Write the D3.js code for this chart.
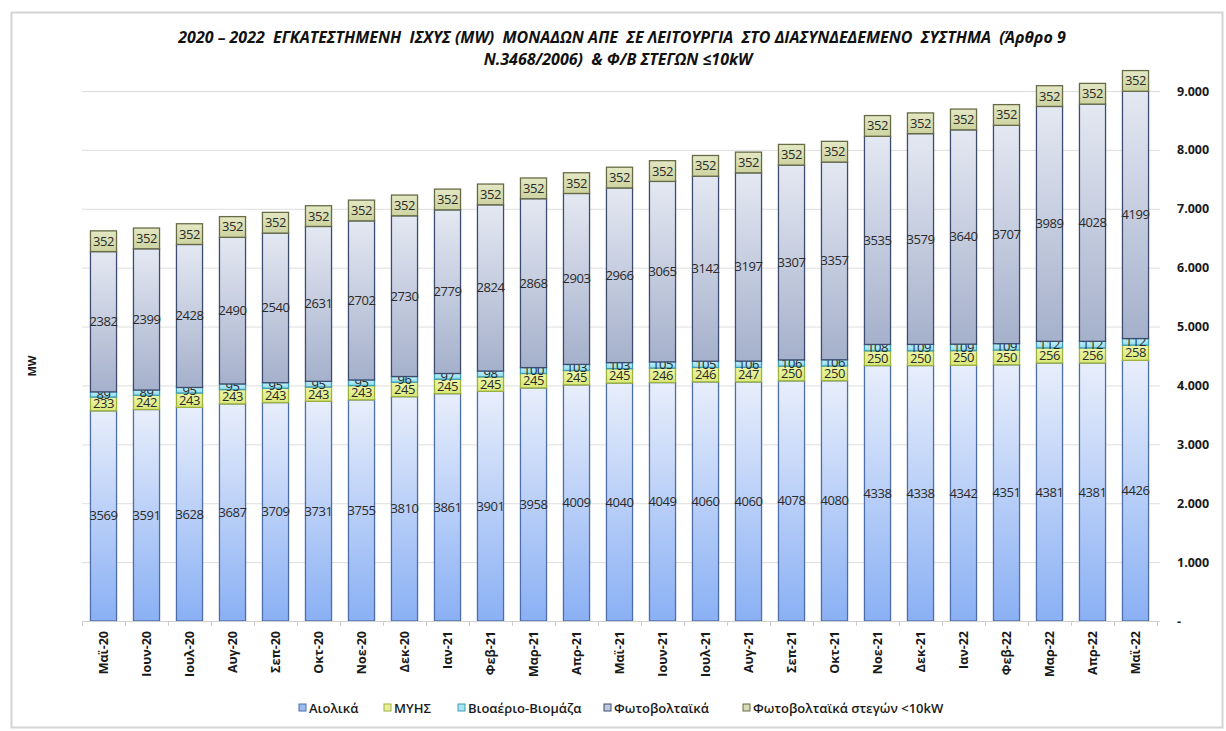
<!DOCTYPE html>
<html>
<head>
<meta charset="utf-8">
<script src="https://cdn.jsdelivr.net/npm/d3@7"></script>
<style>
  html, body { margin: 0; padding: 0; background: #ffffff; }
  svg { display: block; }
  .pre { white-space: pre; }
</style>
</head>
<body>
<svg id="chart" width="1226" height="731"></svg>
<script>
// Monthly installed capacity (MW) per technology, May 2020 – May 2022
const months = ["Μαϊ-20","Ιουν-20","Ιουλ-20","Αυγ-20","Σεπ-20","Οκτ-20","Νοε-20","Δεκ-20",
  "Ιαν-21","Φεβ-21","Μαρ-21","Απρ-21","Μαϊ-21","Ιουν-21","Ιουλ-21","Αυγ-21","Σεπ-21","Οκτ-21",
  "Νοε-21","Δεκ-21","Ιαν-22","Φεβ-22","Μαρ-22","Απρ-22","Μαϊ-22"];
const wind    = [3569,3591,3628,3687,3709,3731,3755,3810,3861,3901,3958,4009,4040,4049,4060,4060,4078,4080,4338,4338,4342,4351,4381,4381,4426];
const smallHydro = [233,242,243,243,243,243,243,245,245,245,245,245,245,246,246,247,250,250,250,250,250,250,256,256,258];
const biogas  = [89,89,95,95,95,95,95,96,97,98,100,103,103,105,105,106,106,106,108,109,109,109,112,112,112];
const solar   = [2382,2399,2428,2490,2540,2631,2702,2730,2779,2824,2868,2903,2966,3065,3142,3197,3307,3357,3535,3579,3640,3707,3989,4028,4199];
const rooftop = [352,352,352,352,352,352,352,352,352,352,352,352,352,352,352,352,352,352,352,352,352,352,352,352,352];
const seriesNames = ["Αιολικά","ΜΥΗΣ","Βιοαέριο-Βιομάζα","Φωτοβολταϊκά","Φωτοβολταϊκά στεγών <10kW"];
const yTicks = [0,1000,2000,3000,4000,5000,6000,7000,8000,9000];

const seriesValues = [wind, smallHydro, biogas, solar, rooftop];
const keys = ["wind","hydro","bio","solar","roof"];
const table = months.map((m, i) => {
  const row = { month: m };
  keys.forEach((k, j) => row[k] = seriesValues[j][i]);
  return row;
});

const styles = {
  wind:  { top: "#e8eefb", bottom: "#8ab0f4", stroke: "#4d6ea8", legend: "#9dbcf0" },
  hydro: { top: "#eef6a8", bottom: "#dbe97a", stroke: "#9cb23c", legend: "#e6f09a" },
  bio:   { top: "#c4f0f8", bottom: "#8fdcee", stroke: "#3e9db5", legend: "#a8e4f2" },
  solar: { top: "#e4e8f2", bottom: "#a5b0cb", stroke: "#3d4c6e", legend: "#c0c8dc" },
  roof:  { top: "#e4e8c4", bottom: "#cdd3a0", stroke: "#676b45", legend: "#d6dbb2" }
};

const FONT = "'Open Sans', 'DejaVu Sans', sans-serif";
const svg = d3.select("#chart");

// outer frame
svg.append("rect").attr("x", 11.5).attr("y", 12.5).attr("width", 1211).attr("height", 715)
  .attr("fill", "#ffffff").attr("stroke", "#d4d4d4").attr("stroke-width", 2);

const defs = svg.append("defs");
keys.forEach(k => {
  const g = defs.append("linearGradient").attr("id", "grad-" + k)
    .attr("x1", 0).attr("y1", 0).attr("x2", 0).attr("y2", 1);
  g.append("stop").attr("offset", "0%").attr("stop-color", styles[k].top);
  g.append("stop").attr("offset", "100%").attr("stop-color", styles[k].bottom);
});

const x = d3.scaleBand().domain(months).range([82, 1157]).paddingInner(0.37).paddingOuter(0.185);
const y = d3.scaleLinear().domain([0, 9000]).range([621, 91]);

// horizontal gridlines
svg.append("g").selectAll("line").data(yTicks.filter(t => t > 0)).join("line")
  .attr("x1", 82).attr("x2", 1160)
  .attr("y1", d => y(d) + 0.5).attr("y2", d => y(d) + 0.5)
  .attr("stroke", "#dedede").attr("stroke-width", 1);

// right-hand value axis labels
svg.append("g").selectAll("text").data(yTicks).join("text")
  .attr("x", 1177).attr("y", d => y(d) + 4.5)
  .attr("font-family", FONT)
  .attr("font-size", 12.5).attr("font-weight", 700).attr("fill", "#1a1a1a")
  .text(d => d === 0 ? "-" : d3.format(",")(d).replace(/,/g, "."));

const stack = d3.stack().keys(keys)(table);

const layers = svg.append("g").selectAll("g").data(stack).join("g");
layers.selectAll("rect").data(d => d.map(p => ({ p, key: d.key }))).join("rect")
  .attr("x", d => x(d.p.data.month) + 0.5)
  .attr("y", d => y(d.p[1]))
  .attr("width", x.bandwidth() - 1)
  .attr("height", d => y(d.p[0]) - y(d.p[1]))
  .attr("fill", d => `url(#grad-${d.key})`)
  .attr("stroke", d => styles[d.key].stroke)
  .attr("stroke-width", 1.3);

// value labels centred in each segment
layers.selectAll("text").data(d => d.map(p => ({ p, key: d.key }))).join("text")
  .attr("x", d => x(d.p.data.month) + x.bandwidth() / 2)
  .attr("y", d => y((d.p[0] + d.p[1]) / 2) + 4.5)
  .attr("text-anchor", "middle")
  .attr("font-family", FONT)
  .attr("font-size", 13)
  .attr("letter-spacing", -0.4)
  .attr("fill", "#2a2a2a")
  .text(d => d.p.data[d.key]);

// category axis
svg.append("line").attr("x1", 82).attr("x2", 1160).attr("y1", 621.5).attr("y2", 621.5)
  .attr("stroke", "#cfcfcf");
const step = x.step();
svg.append("g").selectAll("line").data(d3.range(months.length + 1)).join("line")
  .attr("x1", i => 82 + i * step + 0.5).attr("x2", i => 82 + i * step + 0.5)
  .attr("y1", 621).attr("y2", 626).attr("stroke", "#cfcfcf");

svg.append("g").selectAll("text").data(months).join("text")
  .attr("transform", d => `translate(${x(d) + x.bandwidth() / 2 + 4.5},631) rotate(-90)`)
  .attr("text-anchor", "end")
  .attr("font-family", FONT)
  .attr("font-size", 12.5).attr("font-weight", 700).attr("fill", "#1a1a1a")
  .text(d => d);

// axis title
svg.append("text").attr("transform", "translate(36,366) rotate(-90)")
  .attr("text-anchor", "middle")
  .attr("font-family", FONT)
  .attr("font-size", 11).attr("font-weight", 700).attr("fill", "#1a1a1a")
  .text("MW");

// title
const title = svg.append("text").attr("class", "pre").attr("text-anchor", "middle")
  .attr("font-family", FONT)
  .attr("font-size", 16).attr("font-weight", 700).attr("font-style", "italic").attr("fill", "#111");
title.append("tspan").attr("x", 622).attr("y", 43)
  .text("2020 – 2022  ΕΓΚΑΤΕΣΤΗΜΕΝΗ  ΙΣΧΥΣ (MW)  ΜΟΝΑΔΩΝ ΑΠΕ  ΣΕ ΛΕΙΤΟΥΡΓΙΑ  ΣΤΟ ΔΙΑΣΥΝΔΕΔΕΜΕΝΟ  ΣΥΣΤΗΜΑ  (Άρθρο 9");
title.append("tspan").attr("x", 618).attr("y", 65)
  .text("N.3468/2006)  & Φ/Β ΣΤΕΓΩΝ ≤10kW");

// legend
const legendX = [299, 384, 458, 604, 743];
const legend = svg.append("g").selectAll("g").data(keys).join("g")
  .attr("transform", (k, i) => `translate(${legendX[i]},708)`);
legend.append("rect").attr("x", 0).attr("y", -4).attr("width", 7).attr("height", 7)
  .attr("fill", k => styles[k].legend).attr("stroke", k => styles[k].stroke).attr("stroke-width", 1);
legend.append("text").attr("x", 10).attr("y", 4.5)
  .attr("font-family", FONT)
  .attr("font-size", 13).attr("font-weight", 600).attr("fill", "#1a1a1a")
  .text((k, i) => seriesNames[i]);
</script>
</body>
</html>
